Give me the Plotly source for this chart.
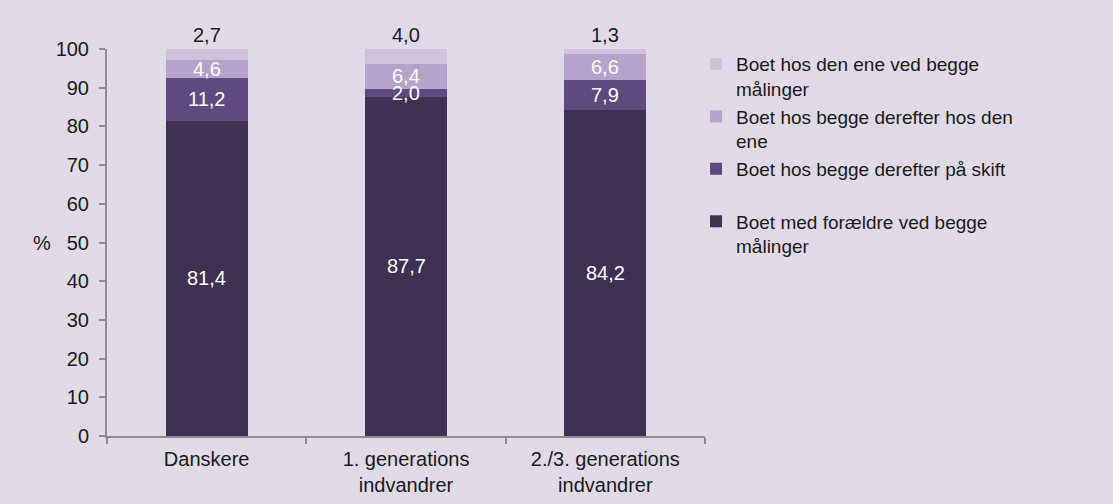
import plotly.graph_objects as go

categories = ["Danskere", "1. generations<br>indvandrer", "2./3. generations<br>indvandrer"]
series_names = [
    "Boet med forældre ved begge<br>målinger",
    "Boet hos begge derefter på skift<br> ",
    "Boet hos begge derefter hos den<br>ene",
    "Boet hos den ene ved begge<br>målinger",
]
med_foraeldre = [81.4, 87.7, 84.2]
paa_skift = [11.2, 2.0, 7.9]
hos_den_ene_efter = [4.6, 6.4, 6.6]
hos_den_ene_begge = [2.7, 4.0, 1.3]
y_ticks = [0, 10, 20, 30, 40, 50, 60, 70, 80, 90, 100]

series_values = [med_foraeldre, paa_skift, hos_den_ene_efter, hos_den_ene_begge]
colors = ["#3F3152", "#5E4A7E", "#B5A3CB", "#CEC2DC"]
label_colors = ["white", "white", "white", "#1a1a1a"]

FONT = "Liberation Sans, Arial, sans-serif"
Y_MAX = 100

fig = go.Figure()
for name, vals, col in zip(series_names, series_values, colors):
    fig.add_trace(go.Bar(
        x=categories, y=vals, name=name,
        marker=dict(color=col, line=dict(width=0)),
    ))

def fmt(v):
    return f"{v:.1f}".replace(".", ",")

annotations = []
for ci, cat in enumerate(categories):
    base = 0.0
    for si, vals in enumerate(series_values):
        v = vals[ci]
        if si == len(series_values) - 1:
            annotations.append(dict(x=cat, y=min(base + v, Y_MAX), text=fmt(v), showarrow=False,
                                    yanchor="bottom", yshift=1,
                                    font=dict(color=label_colors[si], size=20, family=FONT)))
        else:
            annotations.append(dict(x=cat, y=base + v / 2, text=fmt(v), showarrow=False,
                                    yanchor="middle",
                                    font=dict(color=label_colors[si], size=20, family=FONT)))
        base += v

annotations.append(dict(xref="paper", yref="paper", x=-0.108, y=0.5, text="%",
                        showarrow=False, xanchor="center", yanchor="middle",
                        font=dict(size=20, color="#1a1a1a", family=FONT)))

fig.update_layout(
    barmode="stack",
    bargap=0.59,
    width=1113, height=504,
    margin=dict(l=107, r=408, t=49, b=68),
    paper_bgcolor="#E0DAE8",
    plot_bgcolor="#E0DAE8",
    font=dict(family=FONT, size=20, color="#1a1a1a"),
    showlegend=True,
    legend=dict(
        x=0.985, y=1.01, xanchor="left", yanchor="top",
        traceorder="reversed", valign="top",
        font=dict(size=19, family=FONT, color="#1a1a1a"),
        bgcolor="rgba(0,0,0,0)", itemwidth=30, tracegroupgap=0,
    ),
    annotations=annotations,
    xaxis=dict(
        showline=True, linecolor="#8C8C8C", linewidth=2,
        ticks="outside", tickson="boundaries", ticklen=6, tickcolor="#8C8C8C", tickwidth=2,
        showgrid=False, automargin=False, ticklabelstandoff=4,
        tickfont=dict(size=20, family=FONT, color="#1a1a1a"),
    ),
    yaxis=dict(
        range=[0, Y_MAX], tickvals=y_ticks,
        showline=True, linecolor="#8C8C8C", linewidth=2,
        ticks="outside", ticklen=6, tickcolor="#8C8C8C", tickwidth=2,
        showgrid=False, zeroline=False, automargin=False, ticklabelstandoff=6,
        tickfont=dict(size=20, family=FONT, color="#1a1a1a"),
    ),
)

fig.write_html("out.html", config={"displayModeBar": False},
               post_script="document.body.style.margin='0';")
